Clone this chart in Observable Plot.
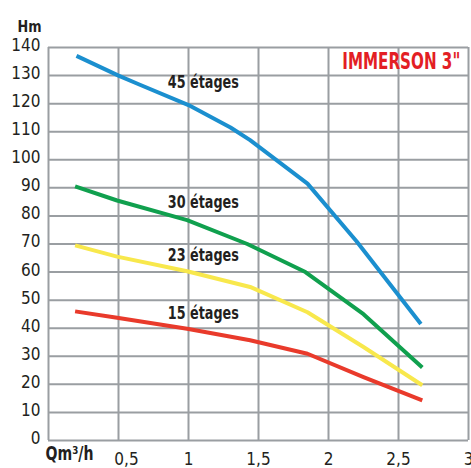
<!DOCTYPE html>
<html>
<head>
<meta charset="utf-8">
<script src="https://cdn.jsdelivr.net/npm/d3@7"></script>
<script src="https://cdn.jsdelivr.net/npm/@observablehq/plot@0.6"></script>
<style>
  html, body { margin: 0; padding: 0; background: #fff; }
</style>
</head>
<body>
<script>
// Flow (m³/h) and head (m) for each stage count
const q45 = [0.2, 0.5, 0.64, 1.0, 1.3, 1.44, 1.85, 2.2, 2.66];
const h45 = [137, 130, 127, 119.5, 111.5, 107, 91.5, 71, 41.5];
const q30 = [0.19, 0.49, 0.99, 1.42, 1.835, 2.25, 2.67];
const h30 = [90.5, 85.5, 78.5, 70, 60, 45, 26];
const q23 = [0.19, 0.49, 0.99, 1.44, 1.85, 2.25, 2.67];
const h23 = [69.5, 65.5, 60.3, 54.7, 45.7, 33.3, 19.7];
const q15 = [0.19, 0.49, 0.99, 1.44, 1.85, 2.25, 2.67];
const h15 = [46, 43.7, 39.8, 35.7, 30.9, 22.6, 14.3];

const seriesNames = ["45 étages", "30 étages", "23 étages", "15 étages"];
const seriesColors = ["#1b8fcf", "#10a04e", "#f8e84c", "#e93a2b"];
const labelQ = [1.106, 1.106, 1.106, 1.106];
const labelH = [127.6, 84.8, 66, 45.2];

const xTicks = [0.5, 1, 1.5, 2, 2.5, 3];
const yTicks = [0, 10, 20, 30, 40, 50, 60, 70, 80, 90, 100, 110, 120, 130, 140];
const yTitle = "Hm";
const xTitle = "Qm³/h";
const brand = "IMMERSON 3\"";
const brandQ = 2.52, brandH = 134.9;

const qs = [q45, q30, q23, q15];
const hs = [h45, h30, h23, h15];
const rows = [];
seriesNames.forEach((name, i) => {
  qs[i].forEach((q, j) => rows.push({series: name, q, h: hs[i][j]}));
});
const labels = seriesNames.map((name, i) => ({name, q: labelQ[i], h: labelH[i]}));

const font = "'Liberation Sans Narrow', 'Arial Narrow', 'DejaVu Sans Condensed', sans-serif";
const grid = "#9a9ea2";
const fmt = d => String(d).replace(".", ",");

const chart = Plot.plot({
  width: 471,
  height: 468,
  marginLeft: 48,
  marginTop: 47,
  marginRight: 3,
  marginBottom: 28,
  style: {fontFamily: font, fontSize: "17px", color: "#231f20", background: "#fff"},
  x: {domain: [0, 3], ticks: xTicks, label: null},
  y: {domain: [0, 140], ticks: yTicks, label: null},
  color: {domain: seriesNames, range: seriesColors},
  marks: [
    Plot.gridX([0, ...xTicks], {stroke: grid, strokeOpacity: 1, strokeWidth: 2}),
    Plot.gridY(yTicks, {stroke: grid, strokeOpacity: 1, strokeWidth: 2}),
    Plot.axisY(yTicks, {tickSize: 0, tickPadding: 8, fontSize: 17, fill: "#231f20", dy: -2}),
    Plot.axisX(xTicks.slice(1), {tickSize: 0, tickPadding: 12, fontSize: 17, fill: "#231f20",
      tickFormat: fmt}),
    Plot.axisX(xTicks.slice(0, 1), {tickSize: 0, tickPadding: 12, fontSize: 17, fill: "#231f20",
      tickFormat: fmt, dx: 8}),
    Plot.line(rows, {x: "q", y: "h", z: "series", stroke: "series", strokeWidth: 4,
      strokeLinejoin: "round", strokeLinecap: "butt"}),
    Plot.text(labels, {x: "q", y: "h", text: "name", fontWeight: "bold", fontSize: 17,
      fill: "#231f20", textAnchor: "middle", className: "fit71"}),
    Plot.text([brand], {x: brandQ, y: brandH, text: d => d, fill: "#e31e24",
      fontWeight: "bold", fontSize: 23, textAnchor: "middle", className: "fit118"}),
    Plot.text([yTitle], {frameAnchor: "top-left", text: d => d, dx: -19, dy: -27,
      fontWeight: "bold", fontSize: 16, fill: "#231f20", textAnchor: "middle", className: "fit24"}),
    Plot.text([xTitle], {frameAnchor: "bottom-left", text: d => d, dx: 21, dy: 19,
      fontWeight: "bold", fontSize: 19, fill: "#231f20", textAnchor: "middle", className: "fit48"})
  ]
});
[["fit71", 71], ["fit118", 118], ["fit24", 24], ["fit48", 48]].forEach(([cls, w]) => {
  chart.querySelectorAll("." + cls + " text").forEach(t => {
    t.setAttribute("textLength", w);
    t.setAttribute("lengthAdjust", "spacingAndGlyphs");
  });
});
document.body.append(chart);
</script>
</body>
</html>
